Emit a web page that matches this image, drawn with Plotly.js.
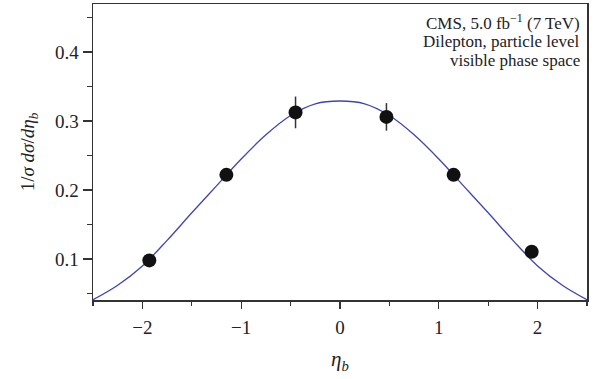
<!DOCTYPE html>
<html>
<head>
<meta charset="utf-8">
<script src="https://cdn.plot.ly/plotly-3.0.1.min.js"></script>
<style>html,body{margin:0;padding:0;background:#fff;}#chart{width:601px;height:379px;}</style>
</head>
<body>
<div id="chart"></div>
<script>
// Measured data points
var etaB = [-1.93, -1.15, -0.45, 0.47, 1.15, 1.94];
var dsigma = [0.098, 0.222, 0.3125, 0.306, 0.222, 0.1105];
var dsigmaErr = [0.004, 0.005, 0.023, 0.020, 0.005, 0.004];

// Curve
var curveEta = [-2.5, -2.25, -2.0, -1.75, -1.5, -1.25, -1.0, -0.75, -0.5, -0.25, 0, 0.25, 0.5, 0.75, 1.0, 1.25, 1.5, 1.75, 2.0, 2.25, 2.5];
var curveVal = [0.041, 0.062, 0.090, 0.127, 0.167, 0.206, 0.245, 0.280, 0.308, 0.325, 0.329, 0.325, 0.308, 0.280, 0.245, 0.206, 0.167, 0.127, 0.090, 0.062, 0.041];

var xTickVals = [-2, -1, 0, 1, 2];
var yTickVals = [0.1, 0.2, 0.3, 0.4];

var infoLines = ['CMS, 5.0 fb<sup>−1</sup> (7 TeV)', 'Dilepton, particle level', 'visible phase space'];

var serif = "'Liberation Serif', 'DejaVu Serif', serif";

var traces = [
  {
    x: curveEta, y: curveVal, type: 'scatter', mode: 'lines',
    line: {color: 'rgb(62,70,172)', width: 1.3, shape: 'spline'},
    hoverinfo: 'skip', showlegend: false, cliponaxis: true
  },
  {
    x: etaB, y: dsigma, type: 'scatter', mode: 'markers',
    marker: {color: '#111111', size: 14},
    error_y: {type: 'data', array: dsigmaErr, visible: true, color: '#333333', thickness: 1.5, width: 0},
    showlegend: false
  }
];

var lineY = [0.939, 0.874, 0.808];
var annotations = infoLines.map(function (t, i) {
  return {
    xref: 'paper', yref: 'paper', x: 0.99, y: lineY[i], xanchor: 'right', yanchor: 'middle',
    align: 'right', showarrow: false, text: t,
    font: {family: serif, size: 17, color: '#222'}
  };
});

var layout = {
  width: 601, height: 379,
  margin: {l: 93, r: 14, t: 4, b: 79},
  paper_bgcolor: '#ffffff', plot_bgcolor: '#ffffff',
  font: {family: serif, size: 19, color: '#222222'},
  showlegend: false,
  xaxis: {
    range: [-2.5, 2.5],
    tickmode: 'array', tickvals: xTickVals,
    ticks: 'outside', ticklen: 7, tickwidth: 1.3, tickcolor: '#333',
    ticklabelstandoff: 3,
    minor: {dtick: 0.5, tick0: 0, ticks: 'outside', ticklen: 4, tickwidth: 1.2, tickcolor: '#333', showgrid: false},
    showline: true, linecolor: '#333', linewidth: 1.5, mirror: true,
    showgrid: false, zeroline: false,
    tickfont: {family: serif, size: 19, color: '#222'},
    title: {text: '<i>η</i><sub><i>b</i></sub>', font: {family: serif, size: 21, color: '#222'}, standoff: 14}
  },
  yaxis: {
    range: [0.0406, 0.4696],
    tickmode: 'array', tickvals: yTickVals,
    ticks: 'outside', ticklen: 9, tickwidth: 1.3, tickcolor: '#333',
    minor: {dtick: 0.05, tick0: 0, ticks: 'outside', ticklen: 5, tickwidth: 1.2, tickcolor: '#333', showgrid: false},
    showline: true, linecolor: '#333', linewidth: 1.5, mirror: true,
    showgrid: false, zeroline: false,
    tickfont: {family: serif, size: 19, color: '#222'},
    title: {text: '1/<i>σ</i> <i>dσ</i>/<i>dη</i><sub><i>b</i></sub>', font: {family: serif, size: 19, color: '#222'}, standoff: 15}
  },
  annotations: annotations
};

Plotly.newPlot('chart', traces, layout, {displayModeBar: false, staticPlot: true});
</script>
</body>
</html>
